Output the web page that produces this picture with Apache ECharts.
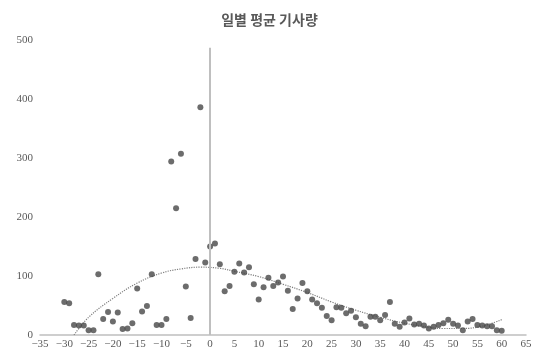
<!DOCTYPE html>
<html>
<head>
<meta charset="utf-8">
<script src="https://cdn.jsdelivr.net/npm/echarts@6/dist/echarts.min.js"></script>
<style>html,body{margin:0;padding:0;background:#fff}#c{width:539px;height:353px}</style>
</head>
<body>
<div id="c"></div>
<script>
var days = [-30,-29,-28,-27,-26,-25,-24,-23,-22,-21,-20,-19,-18,-17,-16,-15,-14,-13,-12,-11,-10,-9,-8,-7,-6,-5,-4,-3,-2,-1,
  0,1,2,3,4,5,6,7,8,9,10,11,12,13,14,15,16,17,18,19,20,21,22,23,24,25,26,27,28,29,30,
  31,32,33,34,35,36,37,38,39,40,41,42,43,44,45,46,47,48,49,50,51,52,53,54,55,56,57,58,59,60];
var articles = [56,54,17,16,16,8,8,103,27,39,23,38,10,11,20,79,40,49,103,17,17,27,294,215,307,82,29,129,386,123,
  150,155,120,74,83,107,121,106,115,86,60,81,97,83,89,99,75,44,62,88,74,60,54,46,32,25,47,46,37,41,30,
  19,15,31,31,25,34,56,19,14,21,28,18,19,16,11,14,17,20,26,19,16,8,23,27,17,16,15,15,8,7];
var trendX = [-28,-25,-20,-15,-10,-6,-2,2,5,10,15,20,25,30,35,40,45,48,52,56,60];
var trendY = [0,30,62,88,105,112,115,113,108,99,86,72,56,42,30,20,13,11,11,15,26];
var xTicks = {min:-35, max:65, interval:5};
var yTicks = {min:0, max:500, interval:100};
var title = '일별 평균 기사량';

var scatterData = days.map(function(d,i){return [d, articles[i]];});
var trendData = trendX.map(function(d,i){return [d, trendY[i]];});

var chart = echarts.init(document.getElementById('c'));
var labelFont = {fontFamily:'Liberation Serif', fontSize:11, color:'#595959'};
chart.setOption({
  animation:false,
  title:{text:title, left:'center', top:8, textStyle:{fontFamily:'Noto Sans CJK KR', fontSize:14, fontWeight:'bold', color:'#595959'}},
  grid:{left:40, right:13, top:40, bottom:18, containLabel:false},
  xAxis:{type:'value', min:xTicks.min, max:xTicks.max, interval:xTicks.interval,
    axisLine:{onZero:false, lineStyle:{color:'#bfbfbf', width:1.5}}, axisTick:{show:false},
    splitLine:{show:false},
    axisLabel:Object.assign({margin:4, formatter:function(v){return String(v).replace('-', '\u2212');}}, labelFont)},
  yAxis:{type:'value', min:yTicks.min, max:yTicks.max, interval:yTicks.interval,
    axisLine:{show:false}, axisTick:{show:false}, splitLine:{show:false},
    axisLabel:Object.assign({margin:7}, labelFont)},
  series:[
    {type:'scatter', data:scatterData, symbolSize:6, itemStyle:{color:'#474747'}, z:3,
     markLine:{silent:true, symbol:['none','none'], label:{show:false},
       lineStyle:{color:'#bfbfbf', width:2, type:'solid'},
       data:[[{coord:[0,0]},{coord:[0,487]}]]}},
    {type:'line', data:trendData, smooth:0.4, symbol:'none', z:2,
     lineStyle:{color:'#7f7f7f', width:1.2, type:'dotted'}}
  ]
});
</script>
</body>
</html>
